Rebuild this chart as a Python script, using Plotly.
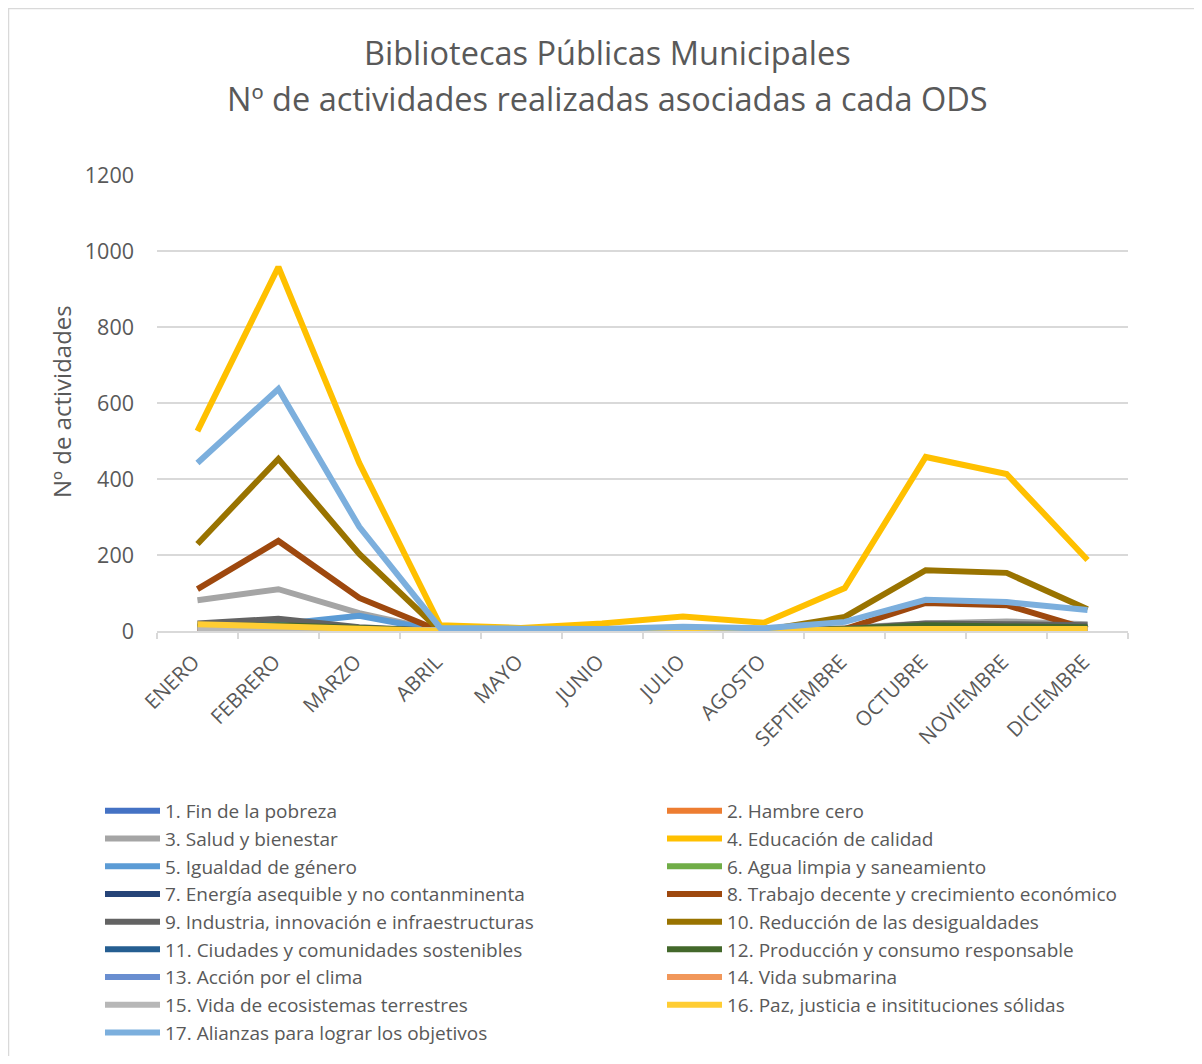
import plotly.graph_objects as go

months = ["ENERO", "FEBRERO", "MARZO", "ABRIL", "MAYO", "JUNIO", "JULIO",
          "AGOSTO", "SEPTIEMBRE", "OCTUBRE", "NOVIEMBRE", "DICIEMBRE"]

names = [
    "1. Fin de la pobreza",
    "2. Hambre cero",
    "3. Salud y bienestar",
    "4. Educación de calidad",
    "5. Igualdad de género",
    "6. Agua limpia y saneamiento",
    "7. Energía asequible y no contanminenta",
    "8. Trabajo decente y crecimiento económico",
    "9. Industria, innovación e infraestructuras",
    "10. Reducción de las desigualdades",
    "11. Ciudades y comunidades sostenibles",
    "12. Producción y consumo responsable",
    "13. Acción por el clima",
    "14. Vida submarina",
    "15. Vida de ecosistemas terrestres",
    "16. Paz, justicia e insitituciones sólidas",
    "17. Alianzas para lograr los objetivos",
]

ods1 = [2, 1, 0, 0, 0, 0, 0, 0, 0, 1, 1, 0]
ods2 = [0, 0, 0, 0, 0, 0, 0, 0, 0, 1, 1, 0]
ods3 = [81, 110, 47, 0, 0, 0, 2, 0, 8, 20, 25, 18]
ods4 = [526, 958, 442, 15, 8, 20, 38, 22, 113, 458, 413, 187]
ods5 = [15, 18, 40, 0, 0, 0, 0, 0, 5, 10, 10, 8]
ods6 = [2, 2, 1, 0, 0, 0, 0, 0, 0, 3, 2, 1]
ods7 = [5, 5, 3, 0, 0, 0, 0, 0, 0, 3, 3, 2]
ods8 = [110, 237, 87, 0, 0, 0, 0, 0, 5, 74, 68, 5]
ods9 = [20, 32, 10, 0, 0, 0, 0, 0, 5, 20, 18, 15]
ods10 = [229, 453, 203, 0, 0, 0, 2, 2, 37, 160, 153, 57]
ods11 = [10, 12, 5, 0, 0, 0, 0, 0, 3, 12, 10, 8]
ods12 = [12, 15, 8, 0, 0, 0, 0, 0, 5, 15, 12, 10]
ods13 = [3, 3, 2, 0, 0, 0, 0, 0, 1, 4, 3, 2]
ods14 = [1, 1, 0, 0, 0, 0, 0, 0, 0, 0, 0, 0]
ods15 = [3, 3, 2, 0, 0, 0, 0, 0, 2, 5, 5, 3]
ods16 = [18, 12, 5, 0, 0, 0, 2, 0, 3, 5, 5, 5]
ods17 = [442, 637, 274, 8, 6, 5, 11, 7, 24, 82, 76, 55]

series = [ods1, ods2, ods3, ods4, ods5, ods6, ods7, ods8, ods9, ods10,
          ods11, ods12, ods13, ods14, ods15, ods16, ods17]

colors = ["#4472C4", "#ED7D31", "#A5A5A5", "#FFC000", "#5B9BD5", "#70AD47",
          "#264478", "#9E480E", "#636363", "#997300", "#255E91", "#43682B",
          "#698ED0", "#F1975A", "#B7B7B7", "#FFCD33", "#7CAFDD"]

FONT = "Open Sans"
TXT = "#595959"

fig = go.Figure()
for i, (name, vals, col) in enumerate(zip(names, series, colors)):
    fig.add_trace(go.Scatter(
        x=months, y=vals, name=name, mode="lines",
        line=dict(color=col, width=6, shape="linear"),
        legend="legend" if i % 2 == 0 else "legend2",
    ))

W, H = 1186, 1048
ml, mt = 149, 167
pw, ph = 971, 456
mr = W - ml - pw
mb = H - mt - ph
bottom = mt + ph  # figure pixel y of plot bottom


def px_x(x):
    return (x - ml) / pw


def px_y(y):
    return (bottom - y) / ph


leg_common = dict(
    orientation="v", xanchor="left", yanchor="top",
    font=dict(size=19, color=TXT, family=FONT),
    itemwidth=55, traceorder="normal", bgcolor="rgba(0,0,0,0)",
)

fig.update_layout(
    width=W, height=H, autosize=False,
    margin=dict(l=ml, r=mr, t=mt, b=mb, autoexpand=False),
    paper_bgcolor="white", plot_bgcolor="white",
    font=dict(family=FONT, color=TXT),
    showlegend=True,
    legend=dict(x=px_x(92), y=px_y(784), **leg_common),
    legend2=dict(x=px_x(654), y=px_y(784), **leg_common),
)

fig.add_annotation(text="Bibliotecas Públicas Municipales", xref="paper", yref="paper",
                   x=px_x(599), y=px_y(44), xanchor="center", yanchor="middle",
                   showarrow=False, font=dict(size=32.5, color=TXT, family=FONT))
fig.add_annotation(text="Nº de actividades realizadas asociadas a cada ODS", xref="paper", yref="paper",
                   x=px_x(599), y=px_y(91), xanchor="center", yanchor="middle",
                   showarrow=False, font=dict(size=32.5, color=TXT, family=FONT))
fig.add_annotation(text="Nº de actividades", xref="paper", yref="paper",
                   x=px_x(53), y=px_y(394), xanchor="center", yanchor="middle",
                   textangle=-90, showarrow=False, font=dict(size=24, color=TXT, family=FONT))

fig.update_xaxes(
    type="category",
    tickangle=-45,
    tickfont=dict(size=20.5, color=TXT, family=FONT),
    showgrid=False,
    showline=True, linecolor="#D9D9D9", linewidth=1.5,
    ticks="outside", tickson="boundaries", ticklen=6, tickcolor="#D9D9D9", tickwidth=1.5,
    ticklabelstandoff=9, ticklabelshift=-4,
    range=[-0.5, 11.5],
)

fig.update_yaxes(
    range=[0, 1200], dtick=200,
    tickfont=dict(size=21.5, color=TXT, family=FONT),
    showgrid=True, gridcolor="#D9D9D9", gridwidth=1.5,
    zeroline=False, showline=False,
    ticks="", ticklabelstandoff=22,
)

# outer chart border (Excel chart area)
fig.add_shape(
    type="rect", xref="paper", yref="paper",
    x0=px_x(0.5), x1=px_x(W + 20),
    y0=px_y(H + 20), y1=px_y(0.5),
    line=dict(color="#D9D9D9", width=1.5), fillcolor="rgba(0,0,0,0)",
    layer="below",
)

fig.write_html("out.html")
